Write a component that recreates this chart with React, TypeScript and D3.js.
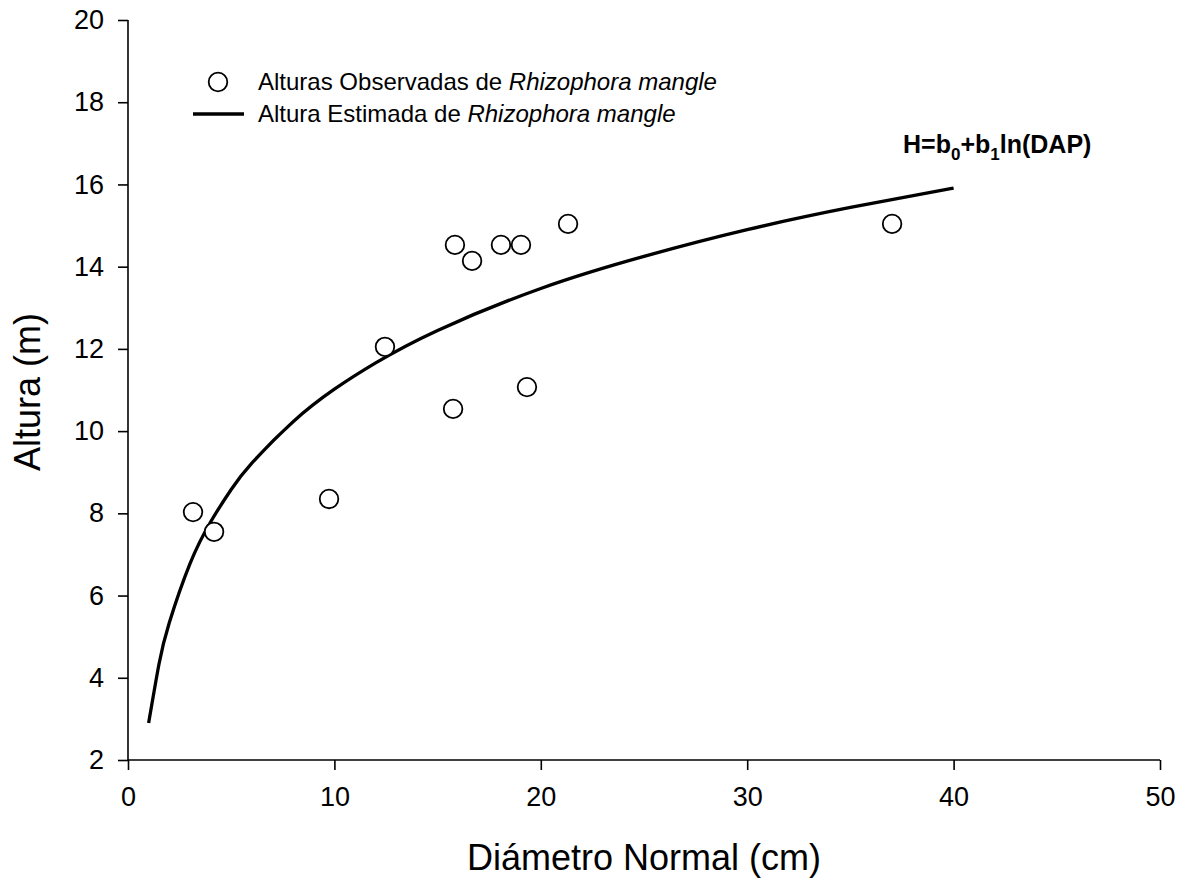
import React, { useEffect, useRef } from "react";
import * as d3 from "d3";

// observed trees: diameter (cm) and height (m)
const diametros = [3.15, 4.17, 9.74, 12.45, 15.84, 15.75, 16.67, 18.07, 19.04, 19.33, 21.32, 37.02];
const alturas = [8.03, 7.55, 8.35, 12.05, 14.53, 10.54, 14.14, 14.53, 14.53, 11.07, 15.04, 15.04];

// fitted curve
const curvaDap = [1, 1.5, 2, 3, 4, 5, 6, 8, 10, 12, 15, 20, 25, 30, 35, 40];
const curvaAltura = [2.9, 4.33, 5.34, 6.77, 7.79, 8.58, 9.22, 10.23, 11.02, 11.66, 12.45, 13.47, 14.25, 14.9, 15.44, 15.91];

const xTicks = [0, 10, 20, 30, 40, 50];
const yTicks = [2, 4, 6, 8, 10, 12, 14, 16, 18, 20];

const W = 1186;
const H = 880;
const margin = { top: 20, right: 26, bottom: 120, left: 128 };

const App = () => {
  const svgRef = useRef<SVGSVGElement>(null);

  useEffect(() => {
    const svg = d3.select(svgRef.current);
    svg.selectAll("*").remove();
    const font = "Arial, 'Liberation Sans', sans-serif";

    const x = d3.scaleLinear().domain([0, 50]).range([margin.left, W - margin.right]);
    const y = d3.scaleLinear().domain([2, 20]).range([H - margin.bottom, margin.top]);

    const xAxis = svg.append("g")
      .attr("transform", `translate(0,${y(2)})`)
      .call(d3.axisBottom(x).tickValues(xTicks).tickSize(10).tickPadding(17).tickFormat(d3.format("d")));
    xAxis.select(".domain").attr("d", `M${x(0)},0H${x(50)}`).attr("stroke-width", 1.6);
    xAxis.selectAll("line").attr("stroke-width", 1.6);
    xAxis.selectAll("text").style("font-size", "27px").style("font-family", font).attr("fill", "#000");

    const yAxis = svg.append("g")
      .attr("transform", `translate(${x(0)},0)`)
      .call(d3.axisLeft(y).tickValues(yTicks).tickSize(10).tickPadding(14).tickFormat(d3.format("d")));
    yAxis.select(".domain").attr("d", `M0,${y(2)}V${y(20)}`).attr("stroke-width", 1.6);
    yAxis.selectAll("line").attr("stroke-width", 1.6);
    yAxis.selectAll("text").style("font-size", "27px").style("font-family", font).attr("fill", "#000");

    const line = d3.line<number>()
      .x((_, i) => x(curvaDap[i]))
      .y((d) => y(d))
      .curve(d3.curveNatural);

    svg.append("path")
      .datum(curvaAltura)
      .attr("d", line)
      .attr("fill", "none")
      .attr("stroke", "#000")
      .attr("stroke-width", 3.3);

    svg.append("g")
      .selectAll("circle")
      .data(diametros)
      .enter()
      .append("circle")
      .attr("cx", (d) => x(d))
      .attr("cy", (_, i) => y(alturas[i]))
      .attr("r", 9.3)
      .attr("fill", "#fff")
      .attr("stroke", "#000")
      .attr("stroke-width", 1.8);

    // axis titles
    svg.append("text")
      .attr("x", (x(0) + x(50)) / 2)
      .attr("y", 870)
      .attr("text-anchor", "middle")
      .style("font-size", "36px")
      .style("font-family", font)
      .text("Diámetro Normal (cm)");

    svg.append("text")
      .attr("transform", `translate(40,392) rotate(-90)`)
      .attr("text-anchor", "middle")
      .style("font-size", "36px")
      .style("font-family", font)
      .text("Altura (m)");

    // legend
    const legend = svg.append("g").style("font-family", font).style("font-size", "24px");
    legend.append("circle")
      .attr("cx", 218).attr("cy", 82).attr("r", 9.3)
      .attr("fill", "#fff").attr("stroke", "#000").attr("stroke-width", 1.8);
    const t1 = legend.append("text").attr("x", 258).attr("y", 90);
    t1.append("tspan").text("Alturas Observadas de ");
    t1.append("tspan").attr("font-style", "italic").text("Rhizophora mangle");
    legend.append("line")
      .attr("x1", 193).attr("x2", 244).attr("y1", 114).attr("y2", 114)
      .attr("stroke", "#000").attr("stroke-width", 3.3);
    const t2 = legend.append("text").attr("x", 258).attr("y", 122);
    t2.append("tspan").text("Altura Estimada de ");
    t2.append("tspan").attr("font-style", "italic").text("Rhizophora mangle");

    // formula
    const f = svg.append("text")
      .attr("x", 903).attr("y", 153)
      .style("font-family", font).style("font-size", "25px").attr("font-weight", "bold");
    f.append("tspan").text("H=b");
    f.append("tspan").style("font-size", "17px").attr("dy", 7).text("0");
    f.append("tspan").attr("dy", -7).text("+b");
    f.append("tspan").style("font-size", "17px").attr("dy", 7).text("1");
    f.append("tspan").attr("dy", -7).text("ln(DAP)");
  }, []);

  return (
    <svg ref={svgRef} width={W} height={H} style={{ display: "block", position: "absolute", left: 0, top: 0 }} />
  );
};

export default App;
